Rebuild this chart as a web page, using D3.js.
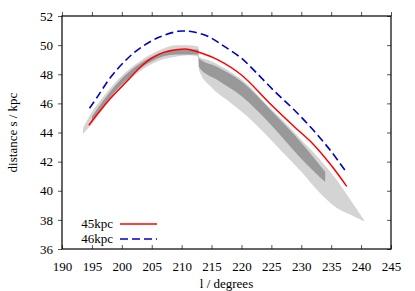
<!DOCTYPE html>
<html>
<head>
<meta charset="utf-8">
<script src="https://cdn.jsdelivr.net/npm/d3@7"></script>
<style>
  body { margin: 0; background: #fff; }
</style>
</head>
<body>
<div id="chart"></div>
<script>
// ---- data ----
const xTicks = [190, 195, 200, 205, 210, 215, 220, 225, 230, 235, 240, 245];
const yTicks = [36, 38, 40, 42, 44, 46, 48, 50, 52];

const redL = [194.5, 196, 198, 200.8, 203, 205, 207, 209.4, 211, 213.4, 216, 220, 224.5, 228.7, 232, 235, 237.6];
const redD = [44.5, 45.3, 46.3, 47.5, 48.45, 49.1, 49.5, 49.7, 49.72, 49.44, 49.0, 47.95, 46.1, 44.45, 43.2, 41.75, 40.3];

const blueL = [194.6, 196, 198, 200.5, 203, 206, 209.4, 210.6, 212, 214.5, 217, 220, 222.5, 225.6, 228.7, 232, 235, 237.6];
const blueD = [45.66, 46.5, 47.72, 48.9, 49.78, 50.5, 50.95, 50.97, 50.9, 50.58, 49.95, 49.1, 48.1, 46.8, 45.6, 44.17, 42.7, 41.24];

// particle cloud envelope (sparse outer part)
const cloudL  = [193.5, 195, 197, 200, 203, 206, 209, 211, 212.8, 212.9, 215, 218, 221, 224, 227, 230, 233, 236, 238, 240.5];
const cloudHi = [44.3, 45.4, 46.5, 47.9, 48.9, 49.6, 50.0, 50.0, 49.9, 49.2, 48.9, 48.2, 47.3, 46.0, 44.8, 43.5, 42.2, 40.7, 39.5, 38.0];
const cloudLo = [43.9, 44.6, 45.7, 47.1, 48.2, 48.9, 49.2, 49.3, 49.2, 48.3, 47.1, 46.1, 45.1, 43.9, 42.6, 41.3, 39.9, 38.8, 38.4, 37.9];

// dense core of the cloud
const coreL  = [195, 200, 205, 209, 212.8, 212.9, 216, 220, 225, 230, 234];
const coreHi = [45.1, 47.7, 49.2, 49.7, 49.7, 49.1, 48.5, 47.5, 45.5, 43.3, 41.3];
const coreLo = [44.8, 47.3, 48.9, 49.35, 49.35, 48.5, 47.6, 46.5, 44.5, 42.2, 40.6];

const legendNames = ["45kpc", "46kpc"];

// ---- chart ----
const W = 415, H = 291;
const m = { left: 62, right: 24, top: 16, bottom: 42 };
const font = "'Liberation Serif', 'Times New Roman', serif";

const svg = d3.select("#chart").append("svg")
  .attr("width", W)
  .attr("height", H)
  .attr("font-family", font)
  .attr("font-size", 13);

const x = d3.scaleLinear().domain([190, 245]).range([m.left, W - m.right]);
const y = d3.scaleLinear().domain([36, 52]).range([H - m.bottom, m.top]);

const band = (ls, hi, lo) => ls.map((l, i) => ({ l, hi: hi[i], lo: lo[i] }));

const area = d3.area()
  .x(d => x(d.l))
  .y0(d => y(d.lo))
  .y1(d => y(d.hi))
  .curve(d3.curveMonotoneX);

svg.append("path")
  .datum(band(cloudL, cloudHi, cloudLo))
  .attr("d", area)
  .attr("fill", "#d4d4d4");

svg.append("path")
  .datum(band(coreL, coreHi, coreLo))
  .attr("d", area)
  .attr("fill", "#999");

const line = d3.line()
  .x(d => x(d[0]))
  .y(d => y(d[1]))
  .curve(d3.curveCatmullRom);

svg.append("path")
  .datum(redL.map((l, i) => [l, redD[i]]))
  .attr("d", line)
  .attr("fill", "none")
  .attr("stroke", "#ff0000")
  .attr("stroke-width", 1.5);

svg.append("path")
  .datum(blueL.map((l, i) => [l, blueD[i]]))
  .attr("d", line)
  .attr("fill", "none")
  .attr("stroke", "#0000c8")
  .attr("stroke-width", 1.6)
  .attr("stroke-dasharray", "8,4");

// axes, gnuplot style: ticks inward on all four sides
const tickLen = 4;
const axes = [
  { ax: d3.axisBottom(x), tr: `translate(0,${y(36)})`, ticks: xTicks, inward: -tickLen, labels: "x" },
  { ax: d3.axisTop(x), tr: `translate(0,${y(52)})`, ticks: xTicks, inward: tickLen, labels: null },
  { ax: d3.axisLeft(y), tr: `translate(${x(190)},0)`, ticks: yTicks, inward: tickLen, labels: "y" },
  { ax: d3.axisRight(y), tr: `translate(${x(245)},0)`, ticks: yTicks, inward: -tickLen, labels: null }
];

axes.forEach(a => {
  const g = svg.append("g")
    .attr("transform", a.tr)
    .call(a.ax.tickValues(a.ticks).tickSizeInner(a.inward).tickSizeOuter(0).tickPadding(0));
  g.attr("font-family", null).attr("font-size", null);
  g.select(".domain").remove();
  g.selectAll("line").attr("stroke", "#555").attr("stroke-width", 1);
  if (!a.labels) g.selectAll("text").remove();
  else if (a.labels === "x") g.selectAll("text").attr("y", 13).attr("dy", "0.71em");
  else g.selectAll("text").attr("x", -9);
});

svg.append("rect")
  .attr("x", x(190))
  .attr("y", y(52))
  .attr("width", x(245) - x(190))
  .attr("height", y(36) - y(52))
  .attr("fill", "none")
  .attr("stroke", "#000")
  .attr("stroke-width", 1.2);

svg.append("text")
  .attr("x", (x(190) + x(245)) / 2)
  .attr("y", 288)
  .attr("text-anchor", "middle")
  .text("l / degrees");

svg.append("text")
  .attr("transform", `translate(17,${(y(36) + y(52)) / 2}) rotate(-90)`)
  .attr("text-anchor", "middle")
  .text("distance s / kpc");

// legend
const legend = svg.append("g");
legendNames.forEach((name, i) => {
  const ly = 224 + i * 15;
  legend.append("text")
    .attr("x", 113)
    .attr("y", ly + 4)
    .attr("text-anchor", "end")
    .text(name);
  legend.append("line")
    .attr("x1", 120).attr("x2", 157)
    .attr("y1", ly).attr("y2", ly)
    .attr("stroke", i === 0 ? "#ff0000" : "#0000c8")
    .attr("stroke-width", 1.5)
    .attr("stroke-dasharray", i === 0 ? null : "8,4");
});
</script>
</body>
</html>
